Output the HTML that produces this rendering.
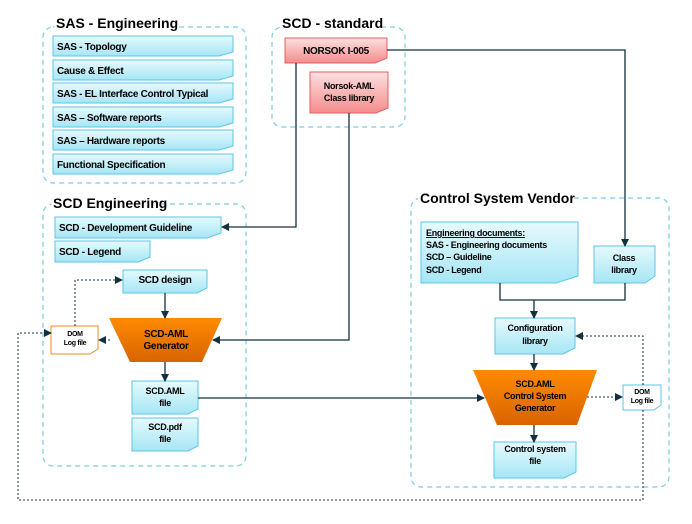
<!DOCTYPE html>
<html><head><meta charset="utf-8"><style>
body{margin:0;background:#fff}
svg text{font-family:"Liberation Sans",sans-serif;font-weight:bold;fill:#000}
</style></head><body>
<svg width="692" height="519" viewBox="0 0 692 519" xmlns="http://www.w3.org/2000/svg">
<defs>
<linearGradient id="cy" x1="0" y1="0" x2="0" y2="1"><stop offset="0" stop-color="#e6fafd"/><stop offset="1" stop-color="#a6e6f5"/></linearGradient>
<linearGradient id="rd" x1="0" y1="0" x2="0" y2="1"><stop offset="0" stop-color="#fde0e0"/><stop offset="1" stop-color="#f48c8c"/></linearGradient>
<linearGradient id="or" x1="0" y1="0" x2="0" y2="1"><stop offset="0" stop-color="#ff8a00"/><stop offset="1" stop-color="#d86400"/></linearGradient>
<marker id="a" markerWidth="8" markerHeight="8" refX="7" refY="4" orient="auto" markerUnits="userSpaceOnUse"><path d="M0,0 L8,4 L0,8z" fill="#13303f"/></marker>
</defs>
<g fill="none" stroke="#7ccbe6" stroke-width="1.2" stroke-dasharray="5,4">
<rect x="43" y="27" width="203" height="156" rx="10"/>
<rect x="272" y="27" width="133" height="100" rx="10"/>
<rect x="43" y="204" width="203" height="262" rx="10"/>
<rect x="411" y="198" width="258" height="289" rx="10"/>
</g>
<g fill="#fff">
<rect x="54" y="16" width="122" height="14"/><rect x="280" y="16" width="100" height="14"/>
<rect x="52" y="196" width="110" height="14"/><rect x="418" y="190" width="152" height="14"/>
</g>
<g font-size="14">
<text x="56" y="28">SAS - Engineering</text>
<text x="282" y="28">SCD - standard</text>
<text x="53" y="208">SCD Engineering</text>
<text x="420" y="203">Control System Vendor</text>
</g>
<!-- boxes -->
<g stroke="#5cc6e4" stroke-width="1" fill="url(#cy)">
<path d="M53,36h180v16l-14,4h-166z"/><path d="M53,60h180v16l-14,4h-166z"/>
<path d="M53,83h180v16l-14,4h-166z"/><path d="M53,107h180v16l-14,4h-166z"/>
<path d="M53,130h180v16l-14,4h-166z"/><path d="M53,154h180v16l-14,4h-166z"/>
<path d="M55,217h166v16l-14,5h-152z"/><path d="M55,241h95v16l-12,5h-83z"/>
<path d="M123,270h84v18l-10,5h-74z"/>
<path d="M132,381h66v28l-10,5h-56z"/><path d="M132,418h66v28l-10,5h-56z"/>
<path d="M421,222h157v54l-22,7h-135z"/><path d="M594,246h61v30l-10,7h-51z"/>
<path d="M495,318h80v30l-12,6h-68z"/><path d="M494,442h82v30l-12,6h-70z"/>
</g>
<g stroke="#e06060" fill="url(#rd)">
<path d="M285,38h102v20l-12,5h-90z"/><path d="M310,72h78v36l-12,5h-66z"/>
</g>
<path d="M51,326h47v23l-8,5h-39z" fill="#fff" stroke="#f08a20"/>
<path d="M623,385h38v20l-7,5h-31z" fill="#fff" stroke="#5cc6e4"/>
<path d="M109,318h113l-20,44h-72z" fill="url(#or)"/>
<path d="M473,370h124l-20,55h-80z" fill="url(#or)"/>
<!-- connectors -->
<g stroke="#13303f" stroke-width="1.3" fill="none">
<path d="M387,50H625V246" marker-end="url(#a)"/>
<path d="M296,63V227H222" marker-end="url(#a)"/>
<path d="M349,113V340H213" marker-end="url(#a)"/>
<path d="M500,283V300H625V283"/><path d="M534,300V318" marker-end="url(#a)"/>
<path d="M534,354V370" marker-end="url(#a)"/><path d="M534,425V442" marker-end="url(#a)"/>
<path d="M198,398H484" marker-end="url(#a)"/>
<path d="M165,293V318" marker-end="url(#a)"/><path d="M165,362V381" marker-end="url(#a)"/>
</g>
<g stroke="#13303f" stroke-width="1" fill="none" stroke-dasharray="2,2">
<path d="M110,340H99" marker-end="url(#a)"/>
<path d="M75,326V280H122" marker-end="url(#a)"/>
<path d="M587,397H622" marker-end="url(#a)"/>
<path d="M643,410V500H18V333H51" marker-end="url(#a)"/>
<path d="M643,385V336H576" marker-end="url(#a)"/>
</g>
<g font-size="10" letter-spacing="-0.3">
<text x="57" y="50">SAS - Topology</text><text x="57" y="74">Cause &amp; Effect</text>
<text x="57" y="97">SAS - EL Interface Control Typical</text><text x="57" y="121">SAS – Software reports</text>
<text x="57" y="144">SAS – Hardware reports</text><text x="57" y="168">Functional Specification</text>
<text x="59" y="231">SCD - Development Guideline</text><text x="59" y="255">SCD - Legend</text>
<text x="165" y="283" text-anchor="middle">SCD design</text>
<text x="336" y="54" text-anchor="middle">NORSOK I-005</text>
<text x="349" y="89" text-anchor="middle" font-size="9">Norsok-AML</text><text x="349" y="101" text-anchor="middle" font-size="9">Class library</text>
<text x="166" y="337" text-anchor="middle">SCD-AML</text><text x="166" y="349" text-anchor="middle">Generator</text>
<text x="165" y="394" text-anchor="middle" font-size="9">SCD.AML</text><text x="165" y="406" text-anchor="middle" font-size="9">file</text>
<text x="165" y="430" text-anchor="middle" font-size="9">SCD.pdf</text><text x="165" y="442" text-anchor="middle" font-size="9">file</text>
<text x="75" y="336" text-anchor="middle" font-size="7">DOM</text><text x="75" y="345" text-anchor="middle" font-size="7">Log file</text>
<text x="642" y="394" text-anchor="middle" font-size="7">DOM</text><text x="642" y="403" text-anchor="middle" font-size="7">Log file</text>
<g font-size="9"><text x="426" y="236" text-decoration="underline">Engineering documents:</text>
<text x="426" y="248">SAS - Engineering documents</text><text x="426" y="260">SCD – Guideline</text><text x="426" y="273">SCD - Legend</text>
<text x="624" y="261" text-anchor="middle">Class</text><text x="624" y="273" text-anchor="middle">library</text>
<text x="535" y="331" text-anchor="middle">Configuration</text><text x="535" y="344" text-anchor="middle">library</text>
<text x="535" y="387" text-anchor="middle">SCD.AML</text><text x="535" y="399" text-anchor="middle">Control System</text><text x="535" y="411" text-anchor="middle">Generator</text>
<text x="535" y="452" text-anchor="middle">Control system</text><text x="535" y="464" text-anchor="middle">file</text></g>
</g>
</svg>
</body></html>
